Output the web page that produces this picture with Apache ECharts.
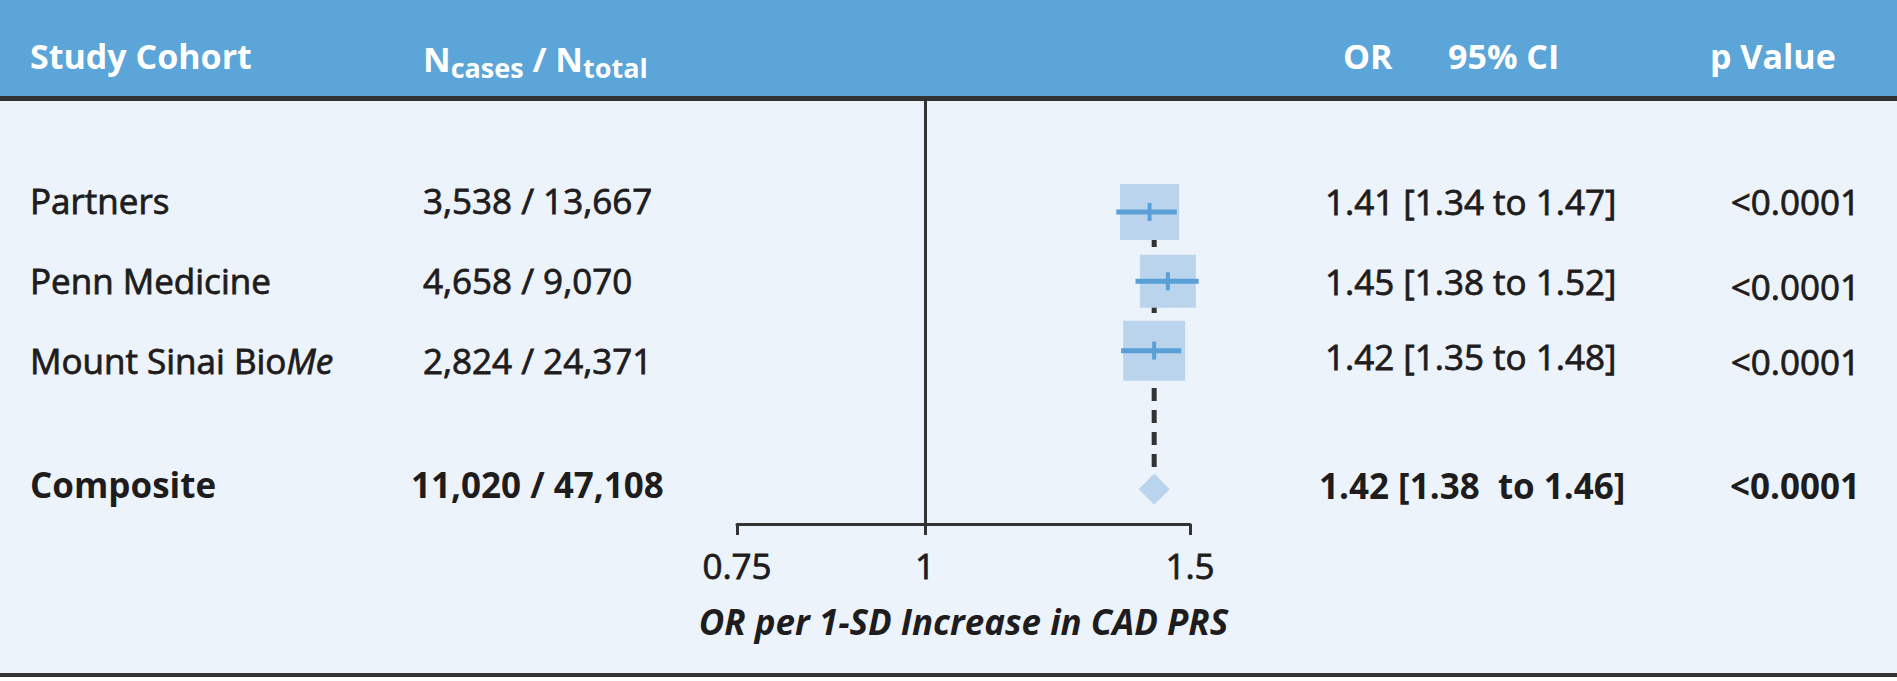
<!DOCTYPE html>
<html>
<head>
<meta charset="utf-8">
<script src="https://cdn.jsdelivr.net/npm/echarts@6/dist/echarts.min.js"></script>
<style>
html,body{margin:0;padding:0;background:#fff;}
#chart{width:1897px;height:681px;}
</style>
</head>
<body>
<div id="chart"></div>
<script>
// ---------------- DATA ----------------
const cohorts = ['Partners', 'Penn Medicine', 'Mount Sinai BioMe', 'Composite'];
const nCases = [3538, 4658, 2824, 11020];
const nTotal = [13667, 9070, 24371, 47108];
const orValues = [1.41, 1.45, 1.42, 1.42];
const ciLower = [1.34, 1.38, 1.35, 1.38];
const ciUpper = [1.47, 1.52, 1.48, 1.46];
const ciJoin = [' to ', ' to ', ' to ', '  to '];
const pValues = ['<0.0001', '<0.0001', '<0.0001', '<0.0001'];
const rowIndex = [0, 1, 2, 4];
const tickValues = [0.75, 1, 1.5];
const tickLabels = ['0.75', '1', '1.5'];
const headers = ['Study Cohort', 'OR', '95% CI', 'p Value'];
const axisTitle = 'OR per 1-SD Increase in CAD PRS';

// ---------------- STYLE / LAYOUT ----------------
const FONT = '"Open Sans", "Noto Sans", sans-serif';
const TXT = '#1F1C1D';
const HEADER_BLUE = '#5BA5D9';
const BODY_BG = '#ECF3FA';
const DARK = '#333333';
const BOX_FILL = '#BAD4EE';
const WHISKER = '#5A9FD6';
const BOX_SIZES = [[59, 56], [56, 53], [62, 60]];
const BODY_WEIGHT = 'normal';
const BODY_STROKE = 0.8;
const COL_Y = {
  label: [200, 280, 360, 484],
  n: [200, 280, 360, 484],
  ci: [201, 281, 356, 485],
  p: [201, 286, 361, 485]
};

const ln = Math.log;
const fmtN = v => v.toLocaleString('en-US');
const fmtCI = i => orValues[i].toFixed(2) + ' [' + ciLower[i].toFixed(2) + ciJoin[i] + ciUpper[i].toFixed(2) + ']';

const chart = echarts.init(document.getElementById('chart'), null, {renderer: 'svg', width: 1897, height: 681});

const nStudies = 3;
const compIdx = 3;

const boxData = [];
const whiskerData = [];
for (let i = 0; i < nStudies; i++) {
  boxData.push({value: [ln(orValues[i]), rowIndex[i]], symbolSize: BOX_SIZES[i]});
  whiskerData.push([ln(orValues[i]), ln(ciLower[i]), ln(ciUpper[i]), rowIndex[i]]);
}

function txt(x, y, text, o) {
  o = o || {};
  const st = {
    text: text, x: x, y: y,
    fill: o.fill || TXT,
    font: (o.style || 'normal') + ' ' + (o.weight || BODY_WEIGHT) + ' ' + (o.size || 35) + 'px ' + FONT,
    textAlign: o.align || 'left', textVerticalAlign: 'middle',
    align: o.align || 'left', verticalAlign: 'middle'
  };
  if (o.stroke) { st.stroke = st.fill; st.lineWidth = o.stroke; }
  return {type: 'text', z: 10, style: Object.assign(st, o.extra || {})};
}

const graphics = [
  {type: 'rect', z: -5, shape: {x: 0, y: 0, width: 1897, height: 96}, style: {fill: HEADER_BLUE}},
  {type: 'rect', z: -5, shape: {x: 0, y: 96, width: 1897, height: 5}, style: {fill: DARK}},
  {type: 'rect', z: -5, shape: {x: 0, y: 673, width: 1897, height: 4}, style: {fill: DARK}},
  {type: 'rect', z: -5, shape: {x: 0, y: 677, width: 1897, height: 4}, style: {fill: '#ffffff'}},
  txt(30, 56, headers[0], {weight: 'bold', size: 34, fill: '#fff'}),
  {
    type: 'text', z: 10,
    style: {
      x: 423, y: 62, textVerticalAlign: 'middle', verticalAlign: 'middle',
      text: '{n|N}{s|cases}{n| / N}{s|total}',
      fill: '#fff',
      font: 'bold 34px ' + FONT,
      rich: {
        n: {fontSize: 34, fontWeight: 'bold', fontFamily: FONT, fill: '#fff', lineHeight: 40, verticalAlign: 'top'},
        s: {fontSize: 27, fontWeight: 'bold', fontFamily: FONT, fill: '#fff', lineHeight: 40, padding: [12, 0, 0, 0], verticalAlign: 'top'}
      }
    }
  },
  txt(1343, 56, headers[1], {weight: 'bold', size: 34, fill: '#fff'}),
  txt(1448, 56, headers[2], {weight: 'bold', size: 34, fill: '#fff'}),
  txt(1710, 56, headers[3], {weight: 'bold', size: 34, fill: '#fff'})
];

for (let i = 0; i < cohorts.length; i++) {
  const isComp = i === compIdx;
  const w = isComp ? 'bold' : BODY_WEIGHT;
  const sk = isComp ? 0 : BODY_STROKE;
  if (cohorts[i].endsWith('BioMe')) {
    graphics.push({
      type: 'text', z: 10,
      style: {
        x: 30, y: COL_Y.label[i], textVerticalAlign: 'middle', verticalAlign: 'middle',
        text: '{r|' + cohorts[i].slice(0, -2) + '}{it|' + cohorts[i].slice(-2) + '}',
        fill: TXT, font: '35px ' + FONT,
        rich: {
          r: {fontSize: 35, fontFamily: FONT, fill: TXT, stroke: TXT, lineWidth: BODY_STROKE},
          it: {fontSize: 35, fontFamily: FONT, fontStyle: 'italic', fill: TXT, stroke: TXT, lineWidth: BODY_STROKE}
        }
      }
    });
  } else {
    graphics.push(txt(30, COL_Y.label[i], cohorts[i], {weight: w, stroke: sk}));
  }
  graphics.push(txt(isComp ? 411 : 423, COL_Y.n[i], fmtN(nCases[i]) + ' / ' + fmtN(nTotal[i]), {weight: w, stroke: sk}));
  graphics.push(txt(isComp ? 1319 : 1325, COL_Y.ci[i], fmtCI(i), {weight: w, stroke: sk, extra: {whiteSpace: 'pre'}}));
  graphics.push(txt(1860, COL_Y.p[i], pValues[i], {weight: w, stroke: sk, align: 'right'}));
}

const tickLn = tickValues.map(v => ln(v));

const option = {
  animation: false,
  backgroundColor: BODY_BG,
  textStyle: {fontFamily: FONT},
  grid: {left: 737, right: 1897 - 1190, top: 101, bottom: 681 - 524, containLabel: false},
  xAxis: {
    type: 'value',
    min: ln(tickValues[0]),
    max: ln(tickValues[tickValues.length - 1]),
    axisLine: {show: true, onZero: false, lineStyle: {color: DARK, width: 3}},
    axisTick: {show: true, length: 11, inside: false, customValues: tickLn, lineStyle: {color: DARK, width: 3}},
    axisLabel: {
      show: true, customValues: tickLn, margin: 24,
      fontSize: 35, color: TXT, fontFamily: FONT,
      textBorderColor: TXT, textBorderWidth: BODY_STROKE,
      formatter: function (v) {
        for (let i = 0; i < tickLn.length; i++) if (Math.abs(tickLn[i] - v) < 1e-6) return tickLabels[i];
        return '';
      }
    },
    splitLine: {show: false},
    name: axisTitle,
    nameLocation: 'middle',
    nameGap: 80,
    nameTextStyle: {fontSize: 35, fontWeight: 'bold', fontStyle: 'italic', color: TXT, fontFamily: FONT}
  },
  yAxis: {
    type: 'value', inverse: true, min: -1.6, max: 4.5,
    axisLine: {show: true, onZero: true, lineStyle: {color: DARK, width: 3}},
    axisTick: {show: false}, axisLabel: {show: false}, splitLine: {show: false}
  },
  graphic: {elements: graphics},
  series: [
    {
      type: 'line', z: 1, symbol: 'none', silent: true,
      data: [[ln(orValues[compIdx]), rowIndex[0]], [ln(orValues[compIdx]), rowIndex[compIdx]]],
      lineStyle: {color: DARK, width: 5, type: [13, 9]}
    },
    {
      type: 'scatter', z: 3, symbol: 'rect', data: boxData,
      itemStyle: {color: BOX_FILL, opacity: 1}
    },
    {
      type: 'custom', z: 4, data: whiskerData,
      encode: {x: 0, y: 3},
      renderItem: function (params, api) {
        const y = api.value(3);
        const a = api.coord([api.value(1), y]);
        const b = api.coord([api.value(2), y]);
        const c = api.coord([api.value(0), y]);
        return {
          type: 'group',
          children: [
            {type: 'line', shape: {x1: a[0], y1: a[1], x2: b[0], y2: b[1]}, style: {stroke: WHISKER, lineWidth: 5}},
            {type: 'line', shape: {x1: c[0], y1: c[1] - 9, x2: c[0], y2: c[1] + 9}, style: {stroke: WHISKER, lineWidth: 4}}
          ]
        };
      }
    },
    {
      type: 'scatter', z: 3, symbol: 'diamond', symbolSize: [31, 31],
      data: [[ln(orValues[compIdx]), rowIndex[compIdx]]],
      itemStyle: {color: BOX_FILL, opacity: 1}
    }
  ]
};
chart.setOption(option);
</script>
</body>
</html>
